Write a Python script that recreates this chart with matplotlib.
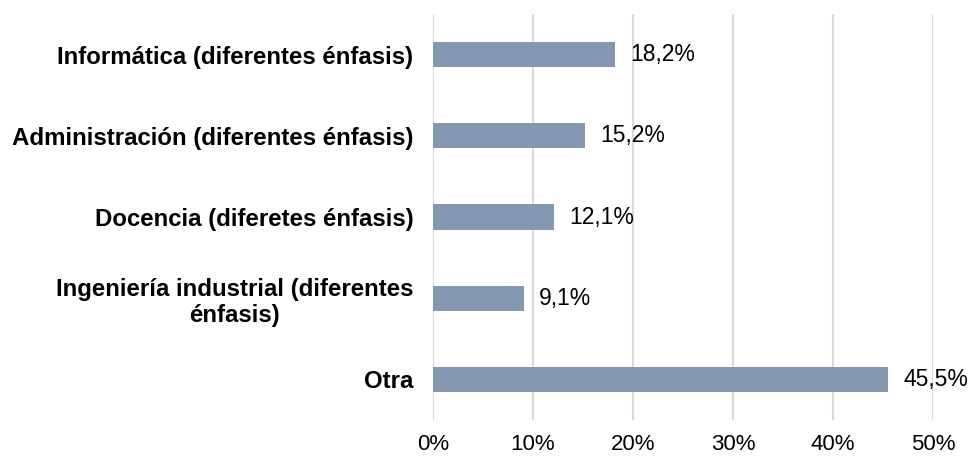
import matplotlib.pyplot as plt
from matplotlib.ticker import FuncFormatter

# Carreras y porcentajes
carreras = [
    'Informática (diferentes énfasis)',
    'Administración (diferentes énfasis)',
    'Docencia (diferetes énfasis)',
    'Ingeniería industrial (diferentes\nénfasis)',
    'Otra',
]
porcentajes = [18.2, 15.2, 12.1, 9.1, 45.5]
ticks_x = [0, 10, 20, 30, 40, 50]

plt.rcParams['font.family'] = ['Liberation Sans', 'DejaVu Sans']

fig = plt.figure(figsize=(9.71, 4.58), dpi=100)
ax = fig.add_axes([0.4459, 0.0830, 0.5150, 0.8864])

pos = list(range(len(carreras)))
ax.barh(pos, porcentajes, height=0.31, color='#8497B0', zorder=3)

for y, v in zip(pos, porcentajes):
    ax.annotate(f'{v:.1f}%'.replace('.', ','), (v, y), xytext=(11, 0),
                textcoords='offset points', va='center', ha='left',
                fontsize=16.5, color='#000000')

ax.set_xlim(0, 50)
ax.set_ylim(-0.5, len(carreras) - 0.5)
ax.invert_yaxis()
ax.set_xticks(ticks_x)
ax.xaxis.set_major_formatter(FuncFormatter(lambda x, p: f'{x:.0f}%'))
ax.set_yticks(pos)
ax.set_yticklabels(carreras, fontweight='bold', fontsize=17.3, multialignment='center')

ax.grid(axis='x', color='#D9D9D9', linewidth=1.5, zorder=0)
for s in ax.spines.values():
    s.set_visible(False)
ax.tick_params(axis='both', length=0)
ax.tick_params(axis='y', pad=14)
ax.tick_params(axis='x', pad=10, labelsize=16)

fig.savefig('out.png', dpi=100)
